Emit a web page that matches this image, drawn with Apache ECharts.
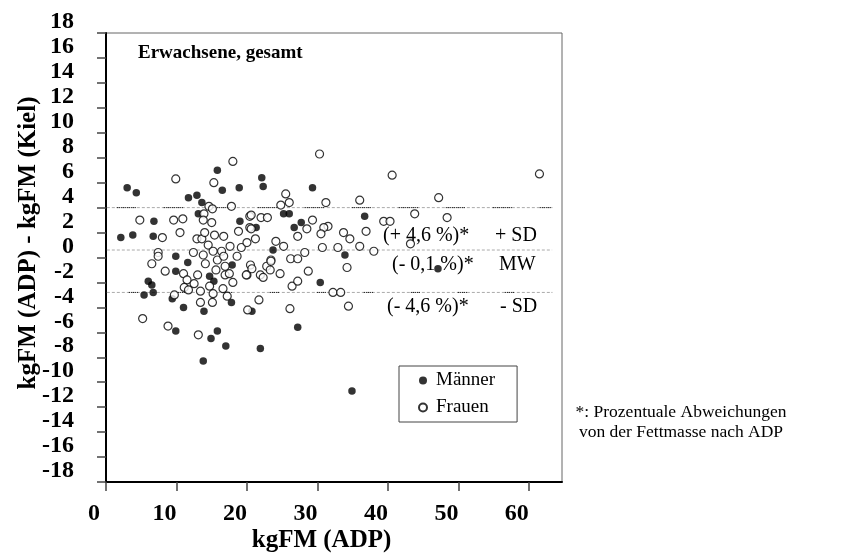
<!DOCTYPE html>
<html>
<head>
<meta charset="utf-8">
<script src="https://cdn.jsdelivr.net/npm/echarts@6/dist/echarts.min.js"></script>
<style>
  html, body { margin: 0; padding: 0; background: #fff; }
  #chart { width: 850px; height: 553px; }
</style>
</head>
<body>
<div id="chart"></div>
<script>
// Fat mass difference (ADP minus Kiel equation) against ADP fat mass, adults
const maenner = [
  [3.0,5.6],[4.3,5.2],[15.8,7.0],[16.5,5.4],[18.9,5.6],[11.7,4.8],[12.9,5.0],[13.6,4.4],
  [13.1,3.5],[6.8,2.9],[19.0,2.9],[2.1,1.6],[3.8,1.8],[6.7,1.7],[9.9,0.1],[11.6,-0.4],
  [17.9,-0.6],[9.9,-1.1],[14.7,-1.5],[6.0,-1.9],[6.5,-2.2],[15.3,-1.9],[6.7,-2.8],[5.4,-3.0],
  [9.4,-3.3],[17.8,-3.6],[11.0,-4.0],[13.9,-4.3],[9.9,-5.9],[15.8,-5.9],[14.9,-6.5],[17.0,-7.1],
  [13.8,-8.3],[22.1,6.4],[22.3,5.7],[29.3,5.6],[25.2,3.5],[26.0,3.5],[21.3,2.4],[27.7,2.8],
  [26.7,2.4],[36.7,3.3],[23.7,0.6],[33.9,0.2],[30.4,-2.0],[20.7,-4.3],[27.2,-5.6],[21.9,-7.3],
  [34.9,-10.7],[47.1,-0.9]
];

const frauen = [
  [9.9,6.3],[18.0,7.7],[15.3,6.0],[14.6,4.1],[15.1,3.9],[17.8,4.1],[13.9,3.5],[13.8,3.0],
  [15.0,2.8],[4.8,3.0],[9.6,3.0],[10.9,3.1],[20.4,3.3],[8.0,1.6],[10.5,2.0],[12.9,1.5],
  [13.6,1.5],[14.0,2.0],[15.4,1.8],[16.7,1.7],[14.5,1.0],[7.4,0.4],[7.4,0.1],[6.5,-0.5],
  [12.4,0.4],[13.8,0.2],[15.2,0.5],[16.4,0.5],[17.6,0.9],[18.6,0.1],[19.2,0.8],[14.1,-0.5],
  [16.9,-0.7],[18.8,2.1],[20.4,2.4],[15.8,-0.2],[16.7,0.1],
  [8.4,-1.1],[11.0,-1.3],[13.0,-1.4],[15.6,-1.0],[16.9,-1.4],[17.5,-1.3],[20.0,-1.4],[11.5,-1.8],
  [11.1,-2.4],[12.5,-2.1],[14.7,-2.3],[18.0,-2.0],[16.6,-2.5],[11.7,-2.6],[13.4,-2.7],[15.2,-2.9],
  [9.7,-3.0],[13.4,-3.6],[15.1,-3.6],[17.2,-3.1],[20.1,-4.2],[5.2,-4.9],[8.8,-5.5],[13.1,-6.2],
  [30.3,8.3],[25.5,5.1],[26.0,4.4],[24.8,4.2],[31.2,4.4],[36.0,4.6],[40.6,6.6],[20.6,3.4],
  [22.0,3.2],[22.9,3.2],[29.3,3.0],[28.5,2.3],[31.5,2.5],[30.9,2.4],[30.5,1.9],[27.2,1.7],
  [36.9,2.1],[33.7,2.0],[34.6,1.5],[36.0,0.9],[38.0,0.5],[39.4,2.9],[40.3,2.9],[20.6,2.3],
  [21.2,1.5],[20.0,1.2],[24.1,1.3],[25.2,0.9],[30.7,0.8],[32.9,0.8],[34.2,-0.8],[28.2,0.4],
  [26.2,-0.1],[27.2,-0.1],[23.4,-0.2],[22.8,-0.7],[20.5,-0.6],
  [19.9,-1.4],[20.7,-0.9],[21.9,-1.4],[22.3,-1.6],[23.3,-1.0],[23.4,-0.3],[24.7,-1.3],[28.7,-1.1],
  [26.4,-2.3],[27.2,-1.9],[32.2,-2.8],[33.3,-2.8],[21.7,-3.4],[26.1,-4.1],[34.4,-3.9],
  [61.5,6.7],[47.2,4.8],[43.8,3.5],[48.4,3.2],[43.2,1.1]
];

// Mean difference and +/- one standard deviation (kg)
const mittelwert = 0.6;
const sdOben = 4.0;
const sdUnten = -2.8;

// Extent of the reference lines along x (kg)
const linienStart = -1.3;
const linienEnde = 63.3;

const xTicks = [0, 10, 20, 30, 40, 50, 60];
const yTicks = [-18, -16, -14, -12, -10, -8, -6, -4, -2, 0, 2, 4, 6, 8, 10, 12, 14, 16, 18];

const SERIF = '"Liberation Serif", "Times New Roman", serif';

// dash pattern: n one-pixel dots followed by a long gap
function dotRun(n, gap) {
  const arr = [];
  for (let i = 0; i < n; i++) { arr.push(1, i === n - 1 ? gap : 1); }
  return arr;
}

function refLine(y, x0, color, type) {
  return {
    type: 'line', silent: true, clip: false, symbol: 'none', z: 1,
    data: [[x0, y], [linienEnde, y]],
    lineStyle: { color: color, width: 1, type: type }
  };
}

const chart = echarts.init(document.getElementById('chart'), null, { renderer: 'canvas' });

chart.setOption({
  animation: false,
  backgroundColor: '#fff',
  title: {
    text: 'Erwachsene, gesamt',
    left: 133, top: 39,
    textStyle: { fontFamily: SERIF, fontWeight: 'bold', fontSize: 19, color: '#000' }
  },
  grid: {
    left: 106, top: 33, right: 288, bottom: 71,
    containLabel: false, outerBoundsMode: 'none',
    show: true, borderColor: '#666', borderWidth: 1, backgroundColor: 'transparent'
  },
  xAxis: {
    type: 'value', min: 0, max: 64.7, interval: 10,
    name: 'kgFM (ADP)', nameLocation: 'middle', nameGap: 46, nameMoveOverlap: false,
    nameTextStyle: { fontFamily: SERIF, fontWeight: 'bold', fontSize: 25, color: '#000', padding: [0, 25, 0, 0] },
    axisLine: { show: true, onZero: false, lineStyle: { color: '#000', width: 2 } },
    axisTick: { show: true, length: 9, lineStyle: { color: '#444', width: 1.5 } },
    axisLabel: {
      margin: 20, fontFamily: SERIF, fontWeight: 'bold', fontSize: 24, color: '#000',
      padding: [0, 24, 0, 0], showMaxLabel: false,
      formatter: v => (xTicks.indexOf(v) >= 0 ? String(v) : '')
    },
    splitLine: { show: false }
  },
  yAxis: {
    type: 'value', min: -18, max: 18, interval: 2,
    name: 'kgFM (ADP) - kgFM (Kiel)', nameLocation: 'middle', nameGap: 65, nameMoveOverlap: false,
    nameTextStyle: { fontFamily: SERIF, fontWeight: 'bold', fontSize: 25, color: '#000', padding: [0, 0, 0, 29] },
    axisLine: { show: true, onZero: false, lineStyle: { color: '#000', width: 2 } },
    axisTick: { show: true, length: 9, lineStyle: { color: '#444', width: 1.5 } },
    axisLabel: {
      margin: 32, fontFamily: SERIF, fontWeight: 'bold', fontSize: 24, color: '#000',
      verticalAlign: 'bottom', lineHeight: 22, showMinLabel: true, showMaxLabel: true,
      formatter: v => (yTicks.indexOf(v) >= 0 ? String(v) : '')
    },
    splitLine: { show: false }
  },
  legend: {
    orient: 'vertical', left: 399, top: 366,
    data: ['Männer', 'Frauen'],
    backgroundColor: '#fff', borderColor: '#444', borderWidth: 1,
    padding: [5, 22, 5, 19], itemGap: 8, itemWidth: 8, itemHeight: 8,
    textStyle: { fontFamily: SERIF, fontSize: 19, color: '#000', padding: [0, 0, 0, 4] }
  },
  graphic: [
    { type: 'text', left: 383, top: 226, style: { text: '(+ 4,6 %)*', font: '20px ' + SERIF, fill: '#000' } },
    { type: 'text', left: 495, top: 226, style: { text: '+ SD', font: '20px ' + SERIF, fill: '#000' } },
    { type: 'text', left: 392, top: 255, style: { text: '(- 0,1 %)*', font: '20px ' + SERIF, fill: '#000' } },
    { type: 'text', left: 499, top: 255, style: { text: 'MW', font: '20px ' + SERIF, fill: '#000' } },
    { type: 'text', left: 387, top: 297, style: { text: '(- 4,6 %)*', font: '20px ' + SERIF, fill: '#000' } },
    { type: 'text', left: 500, top: 297, style: { text: '- SD', font: '20px ' + SERIF, fill: '#000' } },
    {
      type: 'text', x: 681, y: 402,
      style: {
        text: '*: Prozentuale Abweichungen\nvon der Fettmasse nach ADP',
        font: '17.5px ' + SERIF, fill: '#000', align: 'center', lineHeight: 20
      }
    }
  ],
  series: [
    refLine(sdOben, linienStart, '#aaa', [3, 2]),
    refLine(mittelwert, linienStart, '#aaa', [3, 2]),
    refLine(sdUnten, linienStart, '#aaa', [3, 2]),
    refLine(sdOben, 1.53, '#000', dotRun(10, 28)),
    refLine(sdUnten, 3.24, '#000', dotRun(5, 38)),
    {
      name: 'Männer', type: 'scatter', z: 3,
      data: maenner, symbol: 'circle', symbolSize: 7.5,
      itemStyle: { color: '#000' }
    },
    {
      name: 'Frauen', type: 'scatter', z: 4,
      data: frauen, symbol: 'circle', symbolSize: 8,
      itemStyle: { color: '#fff', borderColor: '#000', borderWidth: 1.2 }
    }
  ]
});
</script>
</body>
</html>
